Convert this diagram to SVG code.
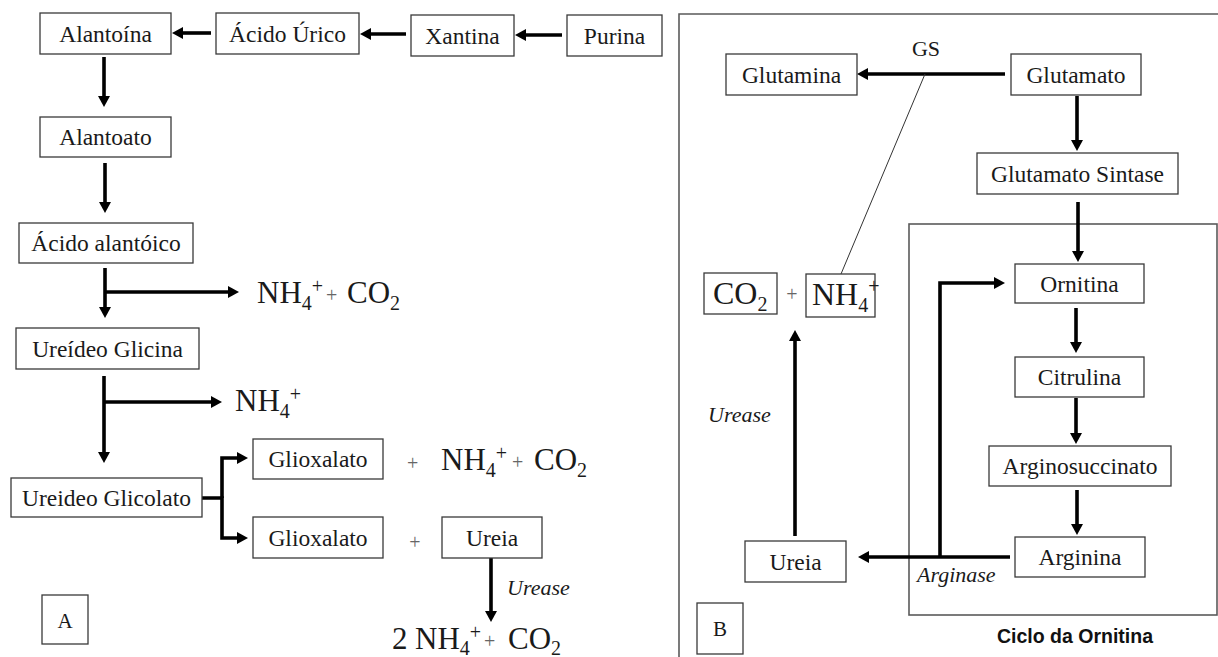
<svg xmlns="http://www.w3.org/2000/svg" width="1218" height="657" viewBox="0 0 1218 657" font-family="Liberation Serif, Times New Roman, serif">
<style>
.bx{fill:#fff;stroke:#3a3a3a;stroke-width:1.3}
.t{font-family:Liberation Serif, Times New Roman, serif;font-size:23.5px;fill:#1a1a1a;text-anchor:middle}
.f{font-family:Liberation Serif, Times New Roman, serif;font-size:31px;fill:#1a1a1a}
.sb{font-size:20px}
.pl{font-size:20px;fill:#666}
.it{font-family:Liberation Serif, Times New Roman, serif;font-size:22px;font-style:italic;fill:#1a1a1a}
.ar{fill:none;stroke:#000;stroke-width:3.6;stroke-linejoin:miter;marker-end:url(#ah)}
.thin{fill:none;stroke:#333;stroke-width:1}
.fr{fill:none;stroke:#5a5a5a;stroke-width:1.6}
.cap{font-family:Liberation Sans, Arial, sans-serif;font-weight:bold;font-size:19.5px;fill:#111;text-anchor:middle}
</style>
<defs>
<marker id="ah" viewBox="0 0 11 12" refX="2" refY="6" markerWidth="11" markerHeight="12" markerUnits="userSpaceOnUse" orient="auto"><path d="M0,0 L11,6 L0,12 z" fill="#000"/></marker>
</defs>
<rect width="1218" height="657" fill="#fff"/>

<g id="frames">
<path class="fr" d="M679,660 V14 H1222"/>
<rect class="fr" x="909" y="224" width="308" height="391"/>
</g>

<g id="connectors">
<path class="ar" d="M562,35 H524"/>
<path class="ar" d="M406,34 H369"/>
<path class="ar" d="M211,33 H181"/>
<path class="ar" d="M104,57 V98"/>
<path class="ar" d="M105,163 V204"/>
<path class="ar" d="M105,268 V309"/>
<path class="ar" d="M105,292 H230"/>
<path class="ar" d="M104,376 V454"/>
<path class="ar" d="M104,402 H213"/>
<path class="ar" d="M222,498 V458 H239"/>
<path class="ar" d="M202,498 H222 V538 H239"/>
<path class="ar" d="M491,558 V613"/>
<path class="ar" d="M1005,74 H866"/>
<path class="ar" d="M1077,96 V142"/>
<path class="ar" d="M1078,202 V253"/>
<path class="ar" d="M1076,308 V344"/>
<path class="ar" d="M1076,398 V435"/>
<path class="ar" d="M1077,490 V526"/>
<path class="ar" d="M1010,557 H867"/>
<path class="ar" d="M940,557 V283 H996"/>
<path class="ar" d="M795,536 V339"/>
<path class="thin" d="M925,74 L841,274"/>
</g>

<g id="alantoina"><rect class="bx" x="40" y="13" width="131" height="41"/><text class="t" x="105.5" y="42">Alantoína</text></g>
<g id="acido-urico"><rect class="bx" x="216" y="13" width="143" height="41"/><text class="t" x="287.5" y="42">Ácido Úrico</text></g>
<g id="xantina"><rect class="bx" x="411" y="15" width="103" height="41"/><text class="t" x="462.5" y="43.5">Xantina</text></g>
<g id="purina"><rect class="bx" x="567" y="15" width="95" height="41"/><text class="t" x="614.5" y="43.5">Purina</text></g>
<g id="alantoato"><rect class="bx" x="40" y="117" width="131" height="40"/><text class="t" x="105.5" y="145">Alantoato</text></g>
<g id="acido-alantoico"><rect class="bx" x="19" y="223" width="174" height="40"/><text class="t" x="106" y="251">Ácido alantóico</text></g>
<g id="nh4-co2-1"><text class="f" x="257" y="303">NH<tspan class="sb" y="310">4</tspan><tspan class="sb" y="293">+</tspan><tspan class="pl" x="326" y="302">+</tspan><tspan x="347" y="303">CO</tspan><tspan class="sb" y="310">2</tspan></text></g>
<g id="ureideo-glicina"><rect class="bx" x="16" y="328" width="183" height="41"/><text class="t" x="107.5" y="357">Ureídeo Glicina</text></g>
<g id="nh4-1"><text class="f" x="235" y="411">NH<tspan class="sb" y="418">4</tspan><tspan class="sb" y="401">+</tspan></text></g>
<g id="ureideo-glicolato"><rect class="bx" x="11" y="478" width="191" height="39"/><text class="t" x="106.5" y="506">Ureideo Glicolato</text></g>
<g id="glioxalato-1"><rect class="bx" x="253" y="439" width="130" height="40"/><text class="t" x="318" y="467">Glioxalato</text></g>
<g id="nh4-co2-2"><text class="f" x="407" y="470"><tspan class="pl">+</tspan><tspan x="441" y="470">NH</tspan><tspan class="sb" y="477">4</tspan><tspan class="sb" y="460">+</tspan><tspan class="pl" x="512" y="469">+</tspan><tspan x="534" y="470">CO</tspan><tspan class="sb" y="477">2</tspan></text></g>
<g id="glioxalato-2"><rect class="bx" x="253" y="517" width="130" height="41"/><text class="t" x="318" y="546">Glioxalato</text></g>
<text class="pl" x="415" y="549" text-anchor="middle">+</text>
<g id="ureia-a"><rect class="bx" x="442" y="517" width="100" height="41"/><text class="t" x="492" y="546">Ureia</text></g>
<text class="it" x="507" y="595">Urease</text>
<g id="nh4-co2-3"><text class="f" x="392" y="649">2<tspan x="415" y="649">NH</tspan><tspan class="sb" y="655">4</tspan><tspan class="sb" y="639">+</tspan><tspan class="pl" x="484" y="648">+</tspan><tspan x="508" y="649">CO</tspan><tspan class="sb" y="655">2</tspan></text></g>
<g id="label-a"><rect class="bx" x="42" y="595" width="46" height="49"/><text class="t" x="65" y="628" style="font-size:21px">A</text></g>

<text class="t" x="926" y="56" style="font-size:22px">GS</text>
<g id="glutamina"><rect class="bx" x="726" y="54" width="131" height="41"/><text class="t" x="791.5" y="83">Glutamina</text></g>
<g id="glutamato"><rect class="bx" x="1011" y="54" width="130" height="41"/><text class="t" x="1076" y="83">Glutamato</text></g>
<g id="glutamato-sintase"><rect class="bx" x="977" y="153" width="201" height="41"/><text class="t" x="1077.5" y="182">Glutamato Sintase</text></g>
<g id="co2"><rect class="bx" x="704" y="273" width="73" height="41"/><text class="f" x="713" y="304" style="font-size:32px">CO<tspan class="sb" y="311">2</tspan></text></g>
<text class="pl" x="792" y="301" text-anchor="middle">+</text>
<g id="nh4"><rect class="bx" x="806" y="274" width="69" height="43"/><text class="f" x="812" y="305" style="font-size:32px">NH<tspan class="sb" y="312">4</tspan><tspan class="sb" y="293">+</tspan></text></g>
<text class="it" x="708" y="422">Urease</text>
<g id="ornitina"><rect class="bx" x="1015" y="264" width="129" height="39"/><text class="t" x="1079.5" y="292">Ornitina</text></g>
<g id="citrulina"><rect class="bx" x="1015" y="357" width="129" height="40"/><text class="t" x="1079.5" y="385">Citrulina</text></g>
<g id="arginosuccinato"><rect class="bx" x="989" y="446" width="182" height="40"/><text class="t" x="1080" y="474">Arginosuccinato</text></g>
<g id="arginina"><rect class="bx" x="1015" y="537" width="130" height="40"/><text class="t" x="1080" y="565">Arginina</text></g>
<g id="ureia-b"><rect class="bx" x="745" y="541" width="101" height="41"/><text class="t" x="795.5" y="569.5">Ureia</text></g>
<text class="it" x="917" y="582">Arginase</text>
<g id="label-b"><rect class="bx" x="697" y="603" width="46" height="51"/><text class="t" x="720" y="636" style="font-size:21px">B</text></g>
<text class="cap" x="1075" y="643">Ciclo da Ornitina</text>
</svg>
